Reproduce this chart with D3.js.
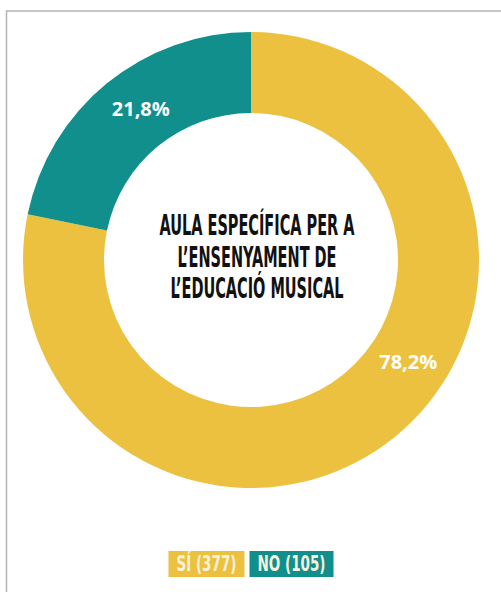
<!DOCTYPE html>
<html>
<head>
<meta charset="utf-8">
<script src="https://cdn.jsdelivr.net/npm/d3@7"></script>
<style>
  body { margin: 0; background: #fff; }
  svg { display: block; }
</style>
</head>
<body>
<svg id="chart" width="501" height="592"></svg>
<script>
// chart data
const categories = ["SÍ", "NO"];
const counts = [377, 105];
const percentLabels = ["78,2%", "21,8%"];
const colors = ["#edc140", "#108f8c"];
const titleLines = ["AULA ESPECÍFICA PER A", "L’ENSENYAMENT DE", "L’EDUCACIÓ MUSICAL"];

// where along the ring each % label sits (degrees from top, clockwise)
const labelAngles = [123, 324];

const svg = d3.select("#chart");
const cx = 251, cy = 260;
const outerR = 228, innerR = 147;

// frame (only left and top edges are visible)
svg.append("rect")
    .attr("x", 6.5).attr("y", 11)
    .attr("width", 700).attr("height", 800)
    .attr("fill", "none")
    .attr("stroke", "#b3b3b3")
    .attr("stroke-width", 1.5);

const data = categories.map((c, i) => ({ cat: c, value: counts[i], label: percentLabels[i], color: colors[i], angle: labelAngles[i] }));

const pie = d3.pie().sort(null).value(d => d.value);
const arc = d3.arc().innerRadius(innerR).outerRadius(outerR);

const g = svg.append("g").attr("transform", `translate(${cx},${cy})`);

g.selectAll(".slice")
    .data(pie(data))
    .enter().append("path")
    .attr("class", "slice")
    .attr("d", arc)
    .attr("fill", d => d.data.color);

// percent labels
const labelR = (innerR + outerR) / 2;
g.selectAll(".pct")
    .data(data)
    .enter().append("text")
    .attr("class", "pct")
    .attr("x", d => labelR * Math.sin(d.angle * Math.PI / 180))
    .attr("y", d => -labelR * Math.cos(d.angle * Math.PI / 180))
    .attr("dy", "0.36em")
    .attr("text-anchor", "middle")
    .style("font-family", "'Open Sans', Lato, sans-serif")
    .style("font-weight", "bold")
    .style("font-size", "20px")
    .attr("fill", "#fff")
    .text(d => d.label);

// centre title, condensed
const title = svg.append("g");
const titleText = title.selectAll("text")
    .data(titleLines)
    .enter().append("text")
    .attr("x", 257)
    .attr("y", (d, i) => 235 + i * 31.5)
    .attr("text-anchor", "middle")
    .style("font-family", "'DejaVu Sans Condensed', 'DejaVu Sans', sans-serif")
    .style("font-weight", "bold")
    .style("font-size", "29px")
    .attr("fill", "#111")
    .text(d => d);

const titleK = 195 / titleText.nodes()[0].getComputedTextLength();
titleText.each(function () {
    const w = this.getComputedTextLength();
    d3.select(this).attr("textLength", w * titleK).attr("lengthAdjust", "spacingAndGlyphs");
});

// legend
const legend = svg.append("g");
const legendItems = legend.selectAll("g")
    .data(data)
    .enter().append("g");

legendItems.append("rect").attr("fill", d => d.color);

const legendText = legendItems.append("text")
    .attr("y", 571)
    .attr("text-anchor", "middle")
    .style("font-family", "'DejaVu Sans Condensed', 'DejaVu Sans', sans-serif")
    .style("font-size", "21px")
    .style("font-weight", "600")
    .attr("fill", "#f8f1dc")
    .text(d => `${d.cat} (${d.value})`);

const legendK = 60 / legendText.nodes()[0].getComputedTextLength();
const pad = 8, gap = 5;
const widths = legendText.nodes().map(n => n.getComputedTextLength() * legendK);
const totalW = d3.sum(widths) + widths.length * 2 * pad + (widths.length - 1) * gap;
let xPos = cx - totalW / 2;
legendItems.each(function (d, i) {
    const bw = widths[i] + 2 * pad;
    const item = d3.select(this);
    item.select("rect")
        .attr("x", xPos).attr("y", 551)
        .attr("width", bw).attr("height", 26);
    item.select("text")
        .attr("x", xPos + bw / 2)
        .attr("textLength", widths[i])
        .attr("lengthAdjust", "spacingAndGlyphs");
    xPos += bw + gap;
});
</script>
</body>
</html>
